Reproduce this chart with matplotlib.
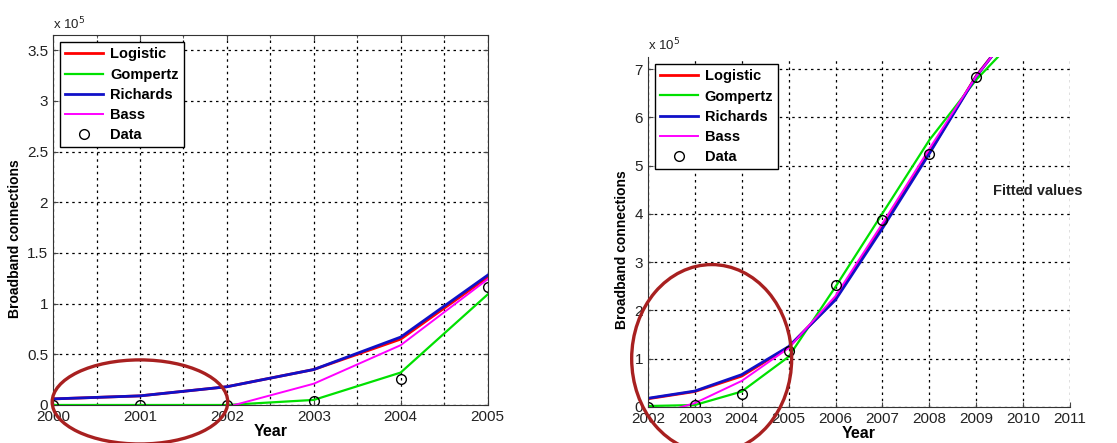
import matplotlib.pyplot as plt
import numpy as np
from matplotlib.patches import Ellipse
from matplotlib.ticker import FuncFormatter, MultipleLocator

# values in units of 1e5 broadband connections
years_left = [2000, 2001, 2002, 2003, 2004, 2005]
logistic_left = [0.06, 0.09, 0.18, 0.35, 0.65, 1.26]
gompertz_left = [0.0, 0.0, 0.0, 0.05, 0.32, 1.09]
richards_left = [0.06, 0.09, 0.18, 0.35, 0.67, 1.28]
bass_left = [-0.10, -0.06, -0.02, 0.21, 0.59, 1.24]
data_left = [0.0, 0.0, 0.0, 0.04, 0.26, 1.16]

years_right = [2002, 2003, 2004, 2005, 2006, 2007, 2008, 2009, 2010]
logistic_right = [0.17, 0.32, 0.64, 1.24, 2.24, 3.74, 5.27, 6.86, 8.1]
gompertz_right = [0.02, 0.04, 0.32, 1.04, 2.49, 4.01, 5.53, 6.78, 7.8]
richards_right = [0.18, 0.33, 0.67, 1.25, 2.22, 3.70, 5.25, 6.85, 8.1]
bass_right = [-0.20, 0.08, 0.54, 1.22, 2.30, 3.80, 5.35, 6.85, 8.1]
years_data_right = [2002, 2003, 2004, 2005, 2006, 2007, 2008, 2009]
data_right = [0.0, 0.04, 0.26, 1.17, 2.53, 3.87, 5.24, 6.84]

series_names = ["Logistic", "Gompertz", "Richards", "Bass"]
colors = ["#ff0000", "#00e000", "#1010c8", "#ff00ff"]
widths = [2.0, 1.6, 2.0, 1.4]

plt.rcParams["font.family"] = ["Liberation Sans", "DejaVu Sans"]

TEXT = "#222222"
RING = "#a82020"


def fmt(v, _):
    if abs(v - round(v)) > 1e-6 and abs(v * 2 - round(v * 2)) > 1e-6:
        return ""
    return "%g" % v


def draw(ax, years, curves, dyears, data):
    for name, vals, c, w in zip(series_names, curves, colors, widths):
        ax.plot(years, vals, color=c, lw=w, label=name)
    ax.plot(dyears, data, "o", mfc="none", mec="black", ms=7, mew=1.0,
            label="Data")
    ax.grid(True, which="both", color="black", linestyle=(0, (2, 3)), lw=0.9)
    ax.tick_params(which="both", direction="in", colors="#444444",
                   labelcolor=TEXT, labelsize=11)
    ax.set_xlabel("Year", fontsize=11.5, fontweight="bold", labelpad=0)
    ax.set_ylabel("Broadband connections", fontsize=10, fontweight="bold")
    leg = ax.legend(loc="upper left", fancybox=False, framealpha=1,
                    edgecolor="black", handlelength=2.6, borderpad=0.35,
                    labelspacing=0.42, handletextpad=0.45,
                    prop={"weight": "bold", "size": 10.5})
    leg.get_frame().set_linewidth(1.0)
    for sp in ax.spines.values():
        sp.set_color("#333333")


fig = plt.figure(figsize=(11.17, 4.43), dpi=100)

# left panel
ax1 = fig.add_axes([0.0475, 0.0858, 0.389, 0.835])
draw(ax1, years_left,
     [logistic_left, gompertz_left, richards_left, bass_left],
     years_left, data_left)
ax1.set_xlim(2000, 2005)
ax1.set_ylim(0, 3.65)
ax1.xaxis.set_major_locator(MultipleLocator(1))
ax1.xaxis.set_minor_locator(MultipleLocator(0.5))
ax1.yaxis.set_major_locator(MultipleLocator(0.5))
ax1.yaxis.set_major_formatter(FuncFormatter(fmt))
ax1.tick_params(which="both", top=True, right=True)
ax1.yaxis.set_label_coords(-0.072, 0.45)
ax1.text(0.0, 1.008, r"x 10$^5$", transform=ax1.transAxes, fontsize=9.5,
         color=TEXT, va="bottom")
ax1.add_patch(Ellipse((2001.0, 0.03), 2.02, 0.83, fill=False, ec=RING,
                      lw=2.4, clip_on=False, zorder=5))

# right panel
ax2 = fig.add_axes([0.580, 0.0813, 0.378, 0.790])
draw(ax2, years_right,
     [logistic_right, gompertz_right, richards_right, bass_right],
     years_data_right, data_right)
ax2.set_xlim(2002, 2011)
ax2.set_ylim(0, 7.25)
ax2.xaxis.set_major_locator(MultipleLocator(1))
ax2.yaxis.set_major_locator(MultipleLocator(1))
ax2.yaxis.set_major_formatter(FuncFormatter(fmt))
ax2.spines["top"].set_visible(False)
ax2.spines["right"].set_visible(False)
ax2.yaxis.set_label_coords(-0.045, 0.45)
ax2.text(0.0, 1.012, r"x 10$^5$", transform=ax2.transAxes, fontsize=9.5,
         color=TEXT, va="bottom")
ax2.text(2009.36, 4.47, "Fitted values", fontsize=10.5, fontweight="bold",
         color=TEXT, va="center")
ax2.add_patch(Ellipse((2003.36, 1.0), 3.41, 3.9, fill=False, ec=RING,
                      lw=2.4, clip_on=False, zorder=5))

fig.savefig("out.png", dpi=100)
